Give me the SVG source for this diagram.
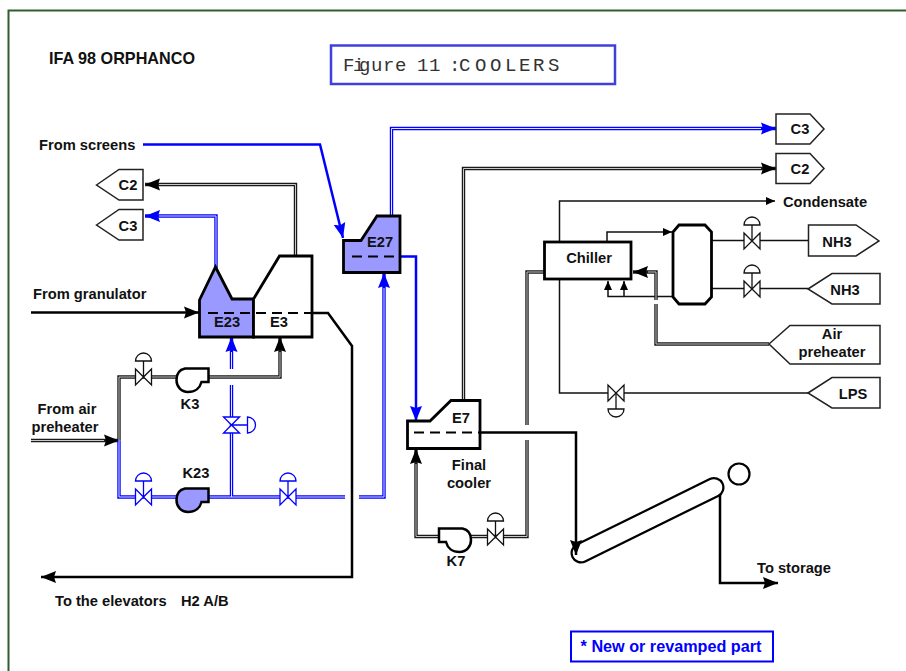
<svg xmlns="http://www.w3.org/2000/svg" width="906" height="671" viewBox="0 0 906 671">
<style>
text{font-family:"Liberation Sans",Arial,sans-serif;font-weight:700;font-size:14.700px;fill:#111}
.m{text-anchor:middle}
.tag{fill:#fff;stroke:#222;stroke-width:1.500}
.eq{stroke:#000;stroke-width:2.800;stroke-linejoin:miter}
.new{fill:#9999ff}
.old{fill:#fff}
.dash{fill:none;stroke:#000;stroke-width:2.200;stroke-dasharray:10 6}
.pk,.pb,.ik,.ib,.tk,.tb,.thin{fill:none}
.pk{stroke:#1a1a1a;stroke-width:3.400}
.pb{stroke:#0000ff;stroke-width:3.400}
.ik{stroke:#c8c8c8;stroke-width:1}
.ib{stroke:#e4e4ff;stroke-width:1}
.tk{stroke:#000;stroke-width:2.500}
.tb{stroke:#0000ff;stroke-width:2.500}
.thin{stroke:#111;stroke-width:1.500}
.vk{color:#111}
.vb{color:#0000ff}
.pump{stroke:#000;stroke-width:2.500}
</style>
<defs>
<marker id="ak" markerUnits="userSpaceOnUse" markerWidth="16" markerHeight="14" refX="15" refY="6.500" orient="auto"><path d="M0,0.500L15,6.500L0,12.500L2,6.500Z" fill="#000"/></marker>
<marker id="ab" markerUnits="userSpaceOnUse" markerWidth="16" markerHeight="14" refX="15" refY="6.500" orient="auto"><path d="M0,0.500L15,6.500L0,12.500L2,6.500Z" fill="#0000ff"/></marker>
<marker id="as" markerUnits="userSpaceOnUse" markerWidth="10" markerHeight="10" refX="9" refY="4.500" orient="auto"><path d="M0,0.500L9,4.500L0,8.500Z" fill="#000"/></marker>
<g id="valve" fill="#fff" stroke="currentColor" stroke-width="1.300">
<path d="M-8,-8L0,0L-8,8ZM8,-8L0,0L8,8Z"/>
<path d="M0,0V-16M-8,-16A8,8 0 0 1 8,-16Z"/>
</g>
<path id="pumpshape" d="M185,368.500H208.500V382H201.500C200,388 195,392 188,392C181,392 176.500,386.500 176.500,380C176.500,373.500 180,369.500 185,368.500Z"/>
</defs>

<rect x="8.500" y="10.500" width="1000" height="1000" fill="#fff" stroke="#2f5f2f" stroke-width="2"/>

<g id="connectors">
<path class="thin" d="M559.500,242V201H775" marker-end="url(#as)"/>
<path class="thin" d="M559.500,279V393H808"/>
<path class="thin" d="M607,242V232H672" marker-end="url(#as)"/>
<path class="thin" d="M673,296.500H608V281" marker-end="url(#as)"/>
<path class="thin" d="M624,296.500V281" marker-end="url(#as)"/>
<path class="thin" d="M711,240.500H808"/>
<path class="thin" d="M711,288.500H808"/>
<path class="pk" d="M295.500,256V184.500H145" marker-end="url(#ak)"/>
<path class="pb" d="M216,268V216H145" marker-end="url(#ab)"/>
<path class="pk" d="M31,440.500H119" marker-end="url(#ak)"/>
<path class="pk" d="M119,440.500V377H176"/>
<path class="pk" d="M208,377H280V337" marker-end="url(#ak)"/>
<path class="pb" d="M119,440.500V497H176"/>
<path class="pb" d="M208,497H345"/>
<path class="pb" d="M359,497H384V273" marker-end="url(#ab)"/>
<path class="pb" d="M231.500,497V385"/>
<path class="pb" d="M231.500,369V337" marker-end="url(#ab)"/>
<path class="pb" d="M391.500,216V128.500H776" marker-end="url(#ab)"/>
<path class="pk" d="M463.500,400V168.500H776" marker-end="url(#ak)"/>
<path class="pk" d="M544,272H527V425"/>
<path class="pk" d="M527,440V536.500H416V449" marker-end="url(#ak)"/>
<path class="pk" d="M769,344H656V304"/>
<path class="pk" d="M656,300V272H633" marker-end="url(#ak)"/>
<path class="ik" d="M295.500,256V184.500H159"/>
<path class="ib" d="M216,268V216H159"/>
<path class="ik" d="M31,440.500H104"/>
<path class="ik" d="M119,440.500V377H176"/>
<path class="ik" d="M208,377H280V352"/>
<path class="ib" d="M119,440.500V497H176"/>
<path class="ib" d="M208,497H345"/>
<path class="ib" d="M359,497H384V288"/>
<path class="ib" d="M231.500,497V385"/>
<path class="ib" d="M231.500,369V352"/>
<path class="ib" d="M391.500,216V128.500H761"/>
<path class="ik" d="M463.500,400V168.500H761"/>
<path class="ik" d="M544,272H527V425"/>
<path class="ik" d="M527,440V536.500H416V464"/>
<path class="ik" d="M769,344H656V304"/>
<path class="ik" d="M656,300V272H648"/>
<path class="tb" d="M143,144.500H320L343,238" marker-end="url(#ab)"/>
<path class="tk" d="M31,312.500H199" marker-end="url(#ak)"/>
<path class="tk" d="M312,313H328L352,346V577H41" marker-end="url(#ak)"/>
<path class="tb" d="M400,256.500H416V421" marker-end="url(#ab)"/>
<path class="tk" d="M720,495V583H778" marker-end="url(#ak)"/>
</g>

<g id="tube"><path d="M581,553L714,487.500" stroke="#000" stroke-width="21" stroke-linecap="round" fill="none"/><path d="M581,553L714,487.500" stroke="#fff" stroke-width="16.500" stroke-linecap="round" fill="none"/></g>
<path class="tk" d="M480,432.500H576V555" marker-end="url(#ak)"/>
<circle id="drum" cx="739" cy="474" r="10.500" fill="#fff" stroke="#000" stroke-width="2.200"/>

<g id="frame-title">
<text x="49" y="64" style="font-size:16.200px">IFA 98 ORPHANCO</text>
<rect x="331" y="45.500" width="284" height="38.500" fill="#fff" stroke="#3f3fdf" stroke-width="2.500"/>
<text x="343 353 359 371 383 395 409 417 429 441 449 459 475 490 505 519 533 548" y="71" style="font-family:'Liberation Mono',monospace;font-weight:400;font-size:19px;fill:#333">Figure 11 :COOLERS</text>
</g>

<g id="E23"><path class="eq new" d="M199.500,337V300L215.500,267L232,299H253.500V337Z"/><text class="m" x="227" y="327">E23</text></g>
<g id="E3"><path class="eq old" d="M253.500,299L279.500,256H312V337H253.500Z"/><text class="m" x="279" y="327">E3</text></g>
<path class="dash" d="M208,313H312"/>
<g id="E27"><path class="eq new" d="M343.500,240.500H361L377,216H400V272.500H343.500Z"/><text class="m" x="380" y="247">E27</text><path class="dash" d="M352,256.500H400"/></g>
<g id="E7"><path class="eq old" d="M407.500,421H430L451,400.500H480V448.500H407.500Z"/><text class="m" x="461" y="423">E7</text><path class="dash" d="M414,432.500H480"/><text class="m" x="469" y="470">Final</text><text class="m" x="469" y="488">cooler</text></g>
<g id="chiller"><rect x="544.500" y="242" width="86.500" height="37" class="eq old"/><text class="m" x="589" y="263">Chiller</text></g>
<g id="vessel"><path class="eq old" d="M679,225H705L711.500,232V297L705,304H679L673,297V232Z"/></g>

<g id="K3"><use href="#pumpshape" class="pump old"/><text class="m" x="190" y="409">K3</text></g>
<g id="K23"><use href="#pumpshape" class="pump new" transform="translate(0,120)"/><text class="m" x="196" y="478">K23</text></g>
<g id="K7"><use href="#pumpshape" class="pump old" transform="translate(647.500,160) scale(-1,1)"/><text class="m" x="456" y="507" transform="translate(0,59)">K7</text></g>

<g id="valves">
<use href="#valve" class="vk" x="143.500" y="377"/>
<use href="#valve" class="vb" x="143.500" y="497"/>
<use href="#valve" class="vb" x="288" y="497"/>
<use href="#valve" class="vb" transform="translate(231.500,425) rotate(90)"/>
<use href="#valve" class="vk" x="495.500" y="537"/>
<use href="#valve" class="vk" x="752" y="241"/>
<use href="#valve" class="vk" x="752" y="289"/>
<use href="#valve" class="vk" transform="translate(616,393) rotate(180)"/>
</g>

<g id="tag-C2-left"><path class="tag" d="M96.500,185L119,169.500H143V200H119Z"/><text class="m" x="128" y="190">C2</text></g>
<g id="tag-C3-left"><path class="tag" d="M96.500,225L119,209.500H143V240H119Z"/><text class="m" x="128" y="231">C3</text></g>
<g id="tag-C3-right"><path class="tag" d="M776,114H810L824,129L810,144H776Z"/><text class="m" x="800" y="134">C3</text></g>
<g id="tag-C2-right"><path class="tag" d="M776,153.500H810L824,168.500L810,183.500H776Z"/><text class="m" x="800" y="174">C2</text></g>
<g id="tag-NH3-out"><path class="tag" d="M808.500,225H856L879,241L856,256H808.500Z"/><text class="m" x="837" y="247">NH3</text></g>
<g id="tag-NH3-in"><path class="tag" d="M808,289L832,273.500H880V304H832Z"/><text class="m" x="845" y="295">NH3</text></g>
<g id="tag-air"><path class="tag" d="M769,344L790,325.500H880V364H790Z"/><text class="m" x="832" y="339">Air</text><text class="m" x="832" y="357">preheater</text></g>
<g id="tag-LPS"><path class="tag" d="M808,393L832,377.500H880V408H832Z"/><text class="m" x="853" y="399">LPS</text></g>

<g id="labels">
<text x="39" y="150">From screens</text>
<text x="33" y="299">From granulator</text>
<text class="m" x="67" y="414">From air</text>
<text class="m" x="65" y="432">preheater</text>
<text x="55" y="606">To the elevators</text>
<text x="181" y="606">H2 A/B</text>
<text x="783" y="207">Condensate</text>
<text x="757" y="573">To storage</text>
</g>

<g id="legend"><rect x="571" y="631.500" width="202" height="30" fill="#fff" stroke="#0000ff" stroke-width="2"/><text class="m" x="671" y="652" style="fill:#0000ff;font-size:16.200px">* New or revamped part</text></g>
</svg>
